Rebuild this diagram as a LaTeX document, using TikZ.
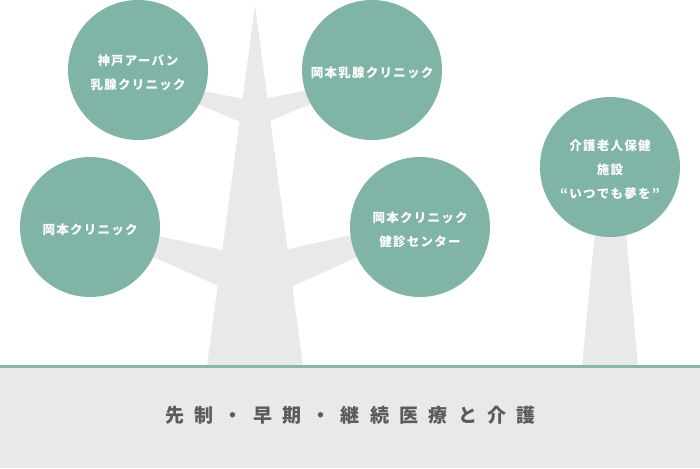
\documentclass[tikz,border=0pt]{standalone}
\usepackage{fontspec}
\newfontfamily\circfont[LetterSpace=10]{Noto Sans CJK JP}
\newfontfamily\groundfont[LetterSpace=54]{Noto Sans CJK JP}
\definecolor{teal1}{HTML}{80B4A6}
\definecolor{treegray}{HTML}{EAE9E7}
\definecolor{linegreen}{HTML}{86B8AA}
\definecolor{txtgray}{HTML}{5B5B5B}
\begin{document}
\begin{tikzpicture}[x=1pt,y=-1pt,
  circ/.style={circle,fill=teal1,minimum size=140pt,inner sep=0pt},
  ctext/.style={text=white,align=center,inner sep=0pt,
    font=\circfont\bfseries\fontsize{12.5}{24}\selectfont},
  treepart/.style={fill=treegray,draw=none}]
\useasboundingbox (0,0) rectangle (700,468);
% ground
\fill[treegray] (0,368) rectangle (700,468);
% tree trunk and branches
\fill[treepart] (255,5) -- (303,366) -- (207,366) -- cycle;
\fill[treepart] (190,89) -- (250,99.8) -- (250,126) -- (190,100.8) -- cycle;
\fill[treepart] (320,87.7) -- (260,99.7) -- (260,125) -- (320,100) -- cycle;
\fill[treepart] (145,233) -- (230,251.8) -- (230,291) -- (145,253.4) -- cycle;
\fill[treepart] (365,232) -- (280,251) -- (280,292) -- (365,253.5) -- cycle;
\fill[treepart] (598,200) -- (623,200) -- (638,366) -- (582,366) -- cycle;
% line
\fill[linegreen] (0,365) rectangle (700,368);
% circles
\node[circ] (kobe) at (138,70) {};
\node[circ] (nyusen) at (372,70) {};
\node[circ] (clinic) at (90,227) {};
\node[circ] (kenshin) at (420,227) {};
\node[circ] (kaigo) at (610,167) {};
\node[ctext] (kobet) at ([yshift=-2.5pt]kobe.center) {神戸アーバン\\乳腺クリニック};
\node[ctext] (nyusent) at ([yshift=-2.5pt]nyusen.center) {岡本乳腺クリニック};
\node[ctext] (clinict) at ([yshift=-2.5pt]clinic.center) {岡本クリニック};
\node[ctext] (kenshint) at ([yshift=-2.5pt]kenshin.center) {岡本クリニック\\健診センター};
\node[ctext] (kaigot) at ([yshift=-2.5pt]kaigo.center) {介護老人保健\\施設\\“いつでも夢を”};
% ground text
\node[text=txtgray,font=\groundfont\bfseries\fontsize{19}{20}\selectfont] (ground) at (350.5,415) {先制・早期・継続医療と介護};
\end{tikzpicture}
\end{document}
